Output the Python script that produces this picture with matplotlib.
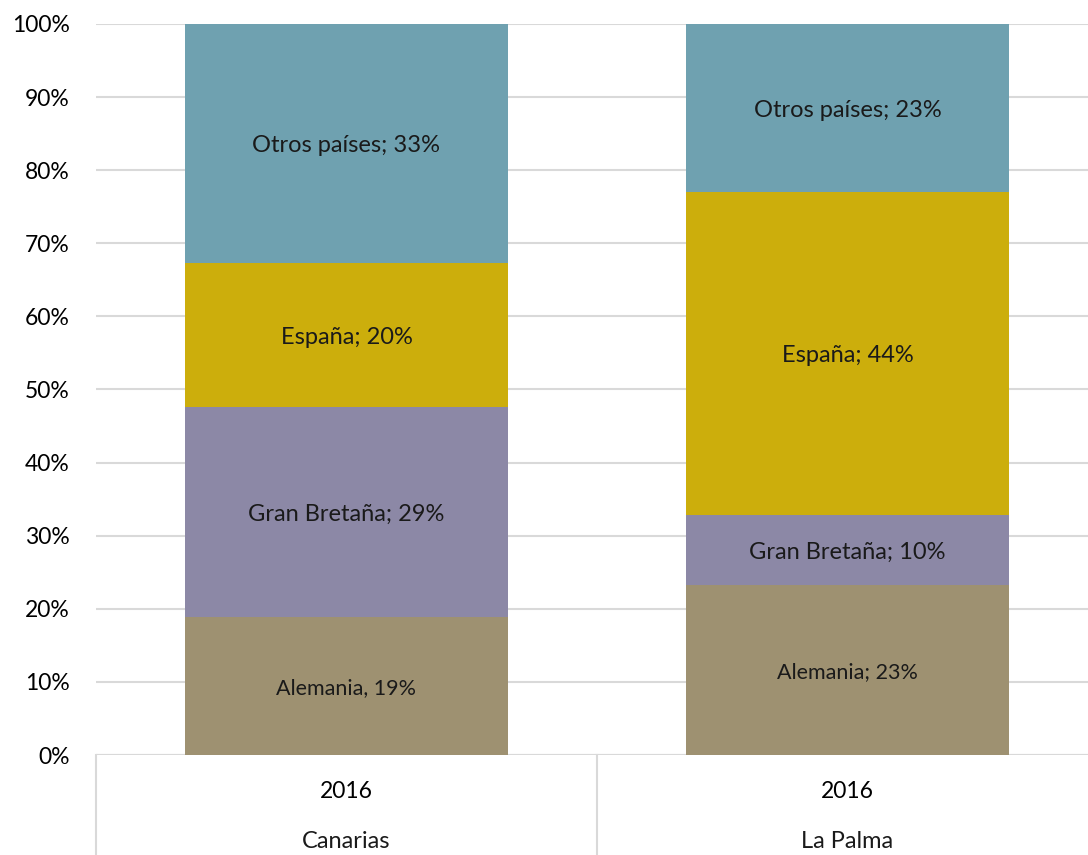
import matplotlib.pyplot as plt
from matplotlib.ticker import PercentFormatter

plt.rcParams["font.family"] = ["Lato", "DejaVu Sans"]

# --------------------------------------------------
# Data (share of tourists by origin, %)
# --------------------------------------------------
regions = ["Canarias", "La Palma"]
years = ["2016", "2016"]
series = ["Alemania", "Gran Bretaña", "España", "Otros países"]
alemania = [18.9, 23.3]
gran_bretana = [28.7, 9.5]
espana = [19.7, 44.2]
otros = [32.7, 23.0]
labels = [
    ["Alemania, 19%", "Alemania; 23%"],
    ["Gran Bretaña; 29%", "Gran Bretaña; 10%"],
    ["España; 20%", "España; 44%"],
    ["Otros países; 33%", "Otros países; 23%"],
]
colors = ["#9E9171", "#8C88A6", "#CCAE0C", "#6FA1B0"]

# --------------------------------------------------
# Plot
# --------------------------------------------------
fig = plt.figure(figsize=(10.88, 8.55), dpi=100)
ax = fig.add_axes([96 / 1088, 100 / 855, 1002 / 1088, 731 / 855])

x = list(range(len(regions)))
bottom = [0.0] * len(regions)
for i, vals in enumerate([alemania, gran_bretana, espana, otros]):
    ax.bar(x, vals, width=0.645, bottom=bottom, color=colors[i], zorder=2)
    for j, v in enumerate(vals):
        fs = 15.5 if i == 0 else 17
        ax.text(x[j], bottom[j] + v / 2, labels[i][j], ha="center",
                va="center_baseline", fontsize=fs, color="#1a1a1a", zorder=3)
    bottom = [b + v for b, v in zip(bottom, vals)]

ax.set_xlim(-0.5, len(regions) - 0.5)
ax.set_ylim(0, 100)
ax.set_yticks(range(0, 101, 10))
ax.yaxis.set_major_formatter(PercentFormatter(decimals=0))
ax.grid(axis="y", color="#D9D9D9", linewidth=1.5, zorder=0)
for s in ax.spines.values():
    s.set_visible(False)
ax.tick_params(axis="y", length=0, labelsize=16.5, pad=19)
ax.tick_params(axis="x", length=0, labelsize=16.5, pad=19)
ax.set_xticks(x)
ax.set_xticklabels(years)

# multi-level category axis
trans = ax.get_xaxis_transform()
ax.axhline(0, color="#D9D9D9", linewidth=1.5, zorder=1)
for xb in [-0.5, 0.5, 1.5]:
    ax.plot([xb, xb], [0, -100 / 731], transform=trans, color="#D9D9D9",
            linewidth=1.5, clip_on=False)
for j, r in enumerate(regions):
    ax.text(x[j], -86 / 731, r, transform=trans, ha="center", va="center",
            fontsize=17, color="#1a1a1a")

plt.savefig("out.png", dpi=100)
